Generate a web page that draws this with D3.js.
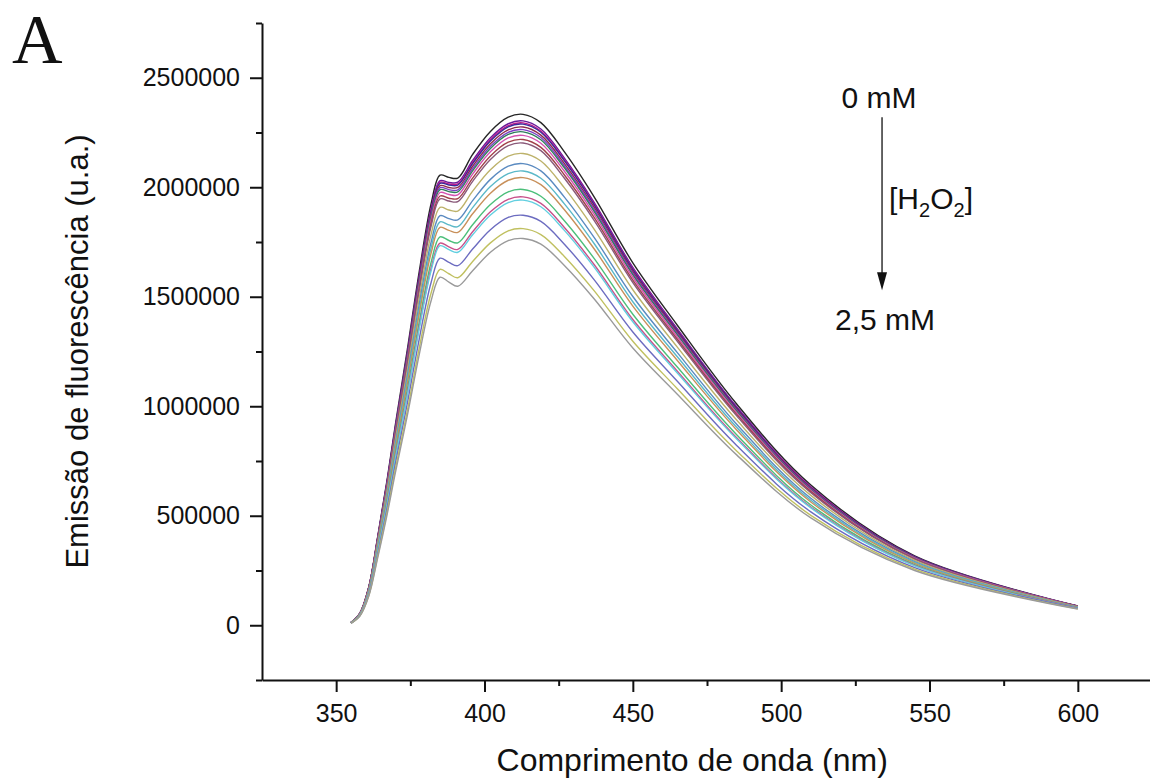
<!DOCTYPE html>
<html>
<head>
<meta charset="utf-8">
<script src="https://cdn.jsdelivr.net/npm/d3@7"></script>
<style>
    body { margin: 0; background: #fff; }
    text { font-family: "Liberation Sans", Arial, sans-serif; fill: #111; }
</style>
</head>
<body>
<div id="chart"></div>
<script>
// wavelength grid (nm)
var wavelength = [355, 358, 361, 364, 367, 370, 374, 378, 382, 385, 388, 391, 396, 402, 408, 413, 419, 427, 437, 450, 465, 485, 510, 545, 600];

// emission, in thousands (u.a.), from 0 mM (top) down to 2,5 mM (bottom)
var s01 = [12, 55, 175, 405, 650, 920, 1260, 1615, 1925, 2055, 2045, 2042, 2150, 2255, 2320, 2333, 2295, 2160, 1955, 1655, 1370, 1010, 640, 317, 88];
var s02 = [12, 54, 173, 400, 642, 908, 1244, 1595, 1901, 2030, 2022, 2023, 2122, 2226, 2290, 2303, 2266, 2132, 1930, 1634, 1353, 998, 632, 313, 87];
var s03 = [12, 54, 172, 398, 639, 905, 1239, 1589, 1894, 2023, 2015, 2015, 2113, 2217, 2281, 2294, 2257, 2124, 1923, 1628, 1348, 994, 630, 312, 87];
var s04 = [12, 54, 172, 397, 638, 903, 1236, 1585, 1890, 2018, 2010, 2010, 2108, 2211, 2276, 2288, 2251, 2119, 1918, 1624, 1345, 992, 628, 312, 87];
var s05 = [12, 54, 171, 395, 634, 897, 1229, 1576, 1880, 2007, 1999, 1999, 2096, 2199, 2262, 2275, 2238, 2107, 1908, 1615, 1338, 986, 625, 310, 87];
var s06 = [12, 53, 170, 393, 631, 893, 1223, 1568, 1871, 1998, 1989, 1988, 2085, 2187, 2251, 2263, 2227, 2096, 1898, 1607, 1331, 981, 622, 309, 86];
var s07 = [12, 53, 169, 391, 628, 889, 1217, 1562, 1863, 1989, 1980, 1979, 2075, 2177, 2241, 2253, 2217, 2087, 1889, 1600, 1326, 977, 619, 308, 86];
var s08 = [12, 53, 168, 389, 624, 883, 1209, 1551, 1850, 1976, 1967, 1965, 2060, 2162, 2225, 2237, 2201, 2072, 1876, 1589, 1317, 971, 615, 306, 86];
var s09 = [11, 52, 167, 385, 618, 875, 1199, 1538, 1835, 1960, 1950, 1948, 2042, 2143, 2206, 2218, 2182, 2055, 1861, 1576, 1306, 963, 610, 303, 85];
var s10 = [11, 52, 165, 383, 614, 869, 1190, 1527, 1823, 1947, 1937, 1934, 2027, 2127, 2190, 2202, 2167, 2040, 1848, 1565, 1297, 956, 605, 302, 85];
var s11 = [11, 51, 162, 374, 601, 850, 1164, 1495, 1785, 1908, 1896, 1891, 1982, 2080, 2142, 2154, 2120, 1996, 1808, 1532, 1270, 937, 593, 296, 84];
var s12 = [11, 50, 158, 366, 588, 832, 1140, 1464, 1749, 1870, 1857, 1851, 1939, 2036, 2096, 2108, 2075, 1954, 1770, 1501, 1245, 918, 580, 291, 82];
var s13 = [11, 49, 156, 361, 579, 819, 1122, 1442, 1723, 1842, 1828, 1820, 1907, 2003, 2062, 2074, 2041, 1923, 1742, 1477, 1226, 904, 571, 287, 82];
var s14 = [11, 48, 154, 355, 570, 807, 1106, 1422, 1699, 1817, 1803, 1794, 1879, 1973, 2032, 2044, 2012, 1896, 1718, 1457, 1209, 892, 563, 283, 81];
var s15 = [10, 47, 150, 346, 556, 786, 1077, 1385, 1657, 1773, 1757, 1746, 1829, 1921, 1979, 1990, 1959, 1846, 1674, 1420, 1179, 870, 549, 277, 80];
var s16 = [10, 46, 147, 340, 546, 773, 1059, 1363, 1630, 1745, 1728, 1716, 1797, 1888, 1945, 1956, 1926, 1815, 1646, 1396, 1160, 856, 540, 273, 79];
var s17 = [10, 46, 146, 338, 542, 767, 1051, 1353, 1619, 1733, 1715, 1703, 1783, 1873, 1930, 1941, 1911, 1802, 1634, 1386, 1152, 850, 536, 271, 78];
var s18 = [10, 44, 141, 326, 523, 741, 1014, 1307, 1565, 1676, 1657, 1642, 1718, 1806, 1862, 1872, 1844, 1739, 1577, 1339, 1114, 821, 518, 263, 77];
var s19 = [9, 43, 136, 316, 506, 717, 981, 1266, 1517, 1625, 1605, 1587, 1661, 1746, 1801, 1811, 1784, 1683, 1527, 1297, 1080, 796, 502, 256, 75];
var s20 = [9, 42, 133, 308, 494, 699, 958, 1236, 1482, 1589, 1567, 1548, 1619, 1703, 1756, 1766, 1740, 1642, 1490, 1266, 1055, 778, 490, 250, 74];

var seriesList = [s01, s02, s03, s04, s05, s06, s07, s08, s09, s10, s11, s12, s13, s14, s15, s16, s17, s18, s19, s20];
var seriesColors = ["#262626", "#6a1b9a", "#c2188a", "#3a2a9a", "#8e2a4a", "#7b3fc4", "#2e7d5a", "#d452b0", "#a0404a", "#8a5a7a",
    "#bdb26a", "#5a8ac0", "#5ab8c8", "#c8905a", "#4cbf7a", "#c8508a", "#62cfe0", "#6c6cc0", "#c0c060", "#9a9a9a"];
var valueUnit = 1000;

var xTicks = [350, 400, 450, 500, 550, 600];
var xMinorTicks = [375, 425, 475, 525, 575];
var yTicks = [0, 500000, 1000000, 1500000, 2000000, 2500000];
var yMinorTicks = [-250000, 250000, 750000, 1250000, 1750000, 2250000, 2750000];

var xTitle = "Comprimento de onda (nm)";
var yTitle = "Emissão de fluorescência (u.a.)";
var panelLabel = "A";
var topLabel = "0 mM";
var bottomLabel = "2,5 mM";

// Set up the chart dimensions
var W = 1150, H = 782;
var margin = { top: 23, left: 262 };
var width = 890, height = 657;

var svg = d3.select("#chart").append("svg")
    .attr("width", W).attr("height", H);

var xScale = d3.scaleLinear().domain([325, 625]).range([margin.left, margin.left + width]);
var yScale = d3.scaleLinear().domain([-250000, 2750000]).range([margin.top + height, margin.top]);

// curves
var line = d3.line()
    .x(function (d, i) { return xScale(wavelength[i]); })
    .y(function (d) { return yScale(d * valueUnit); })
    .curve(d3.curveCatmullRom.alpha(0.5));

svg.append("g").selectAll("path")
    .data(seriesList)
    .enter().append("path")
    .attr("d", line)
    .attr("fill", "none")
    .attr("stroke", function (d, i) { return seriesColors[i]; })
    .attr("stroke-width", 1.4)
    .attr("stroke-linejoin", "round");

// axes
var x0 = margin.top + height;
svg.append("g").attr("transform", "translate(0," + x0 + ")")
    .call(d3.axisBottom(xScale).tickValues(xTicks).tickSize(12).tickSizeOuter(0).tickPadding(12));
svg.append("g").attr("transform", "translate(0," + x0 + ")")
    .call(d3.axisBottom(xScale).tickValues(xMinorTicks).tickSize(6).tickFormat(""))
    .select(".domain").remove();

svg.append("g").attr("transform", "translate(" + margin.left + ",0)")
    .call(d3.axisLeft(yScale).tickValues(yTicks).tickSize(12).tickSizeOuter(0).tickPadding(10).tickFormat(d3.format("d")));
svg.append("g").attr("transform", "translate(" + margin.left + ",0)")
    .call(d3.axisLeft(yScale).tickValues(yMinorTicks).tickSize(6).tickFormat(""))
    .select(".domain").remove();

svg.selectAll(".domain").attr("stroke", "#111").attr("stroke-width", 2);
svg.selectAll(".tick line").attr("stroke", "#111").attr("stroke-width", 2);
svg.selectAll(".tick text").style("font-size", "25px").attr("fill", "#111");

// axis titles
svg.append("text")
    .attr("x", xScale(470)).attr("y", 771)
    .attr("text-anchor", "middle")
    .style("font-size", "32px")
    .text(xTitle);

svg.append("text")
    .attr("transform", "translate(88," + yScale(1250000) + ") rotate(-90)")
    .attr("text-anchor", "middle")
    .style("font-size", "31px")
    .text(yTitle);

// panel letter
svg.append("text")
    .attr("x", 12).attr("y", 63)
    .style("font-family", "'Liberation Serif', 'Times New Roman', serif")
    .style("font-size", "70px")
    .text(panelLabel);

// annotation: arrow with concentration
var arrowX = xScale(534);
var arrowTop = yScale(2320000), arrowTip = yScale(1530000);
svg.append("line")
    .attr("x1", arrowX).attr("x2", arrowX)
    .attr("y1", arrowTop).attr("y2", arrowTip - 14)
    .attr("stroke", "#111").attr("stroke-width", 1.3);
svg.append("path")
    .attr("d", "M" + (arrowX - 5) + "," + (arrowTip - 18) + "L" + (arrowX + 5) + "," + (arrowTip - 18) + "L" + arrowX + "," + arrowTip + "Z")
    .attr("fill", "#111");

svg.append("text")
    .attr("x", arrowX - 3).attr("y", yScale(2362000))
    .attr("text-anchor", "middle")
    .style("font-size", "30px")
    .text(topLabel);

svg.append("text")
    .attr("x", arrowX + 3).attr("y", yScale(1348000))
    .attr("text-anchor", "middle")
    .style("font-size", "30px")
    .text(bottomLabel);

var h2o2 = svg.append("text")
    .attr("x", arrowX + 7).attr("y", yScale(1900000))
    .style("font-size", "30px");
h2o2.append("tspan").text("[H");
h2o2.append("tspan").attr("dy", 8).style("font-size", "20px").text("2");
h2o2.append("tspan").attr("dy", -8).text("O");
h2o2.append("tspan").attr("dy", 8).style("font-size", "20px").text("2");
h2o2.append("tspan").attr("dy", -8).text("]");
</script>
</body>
</html>
